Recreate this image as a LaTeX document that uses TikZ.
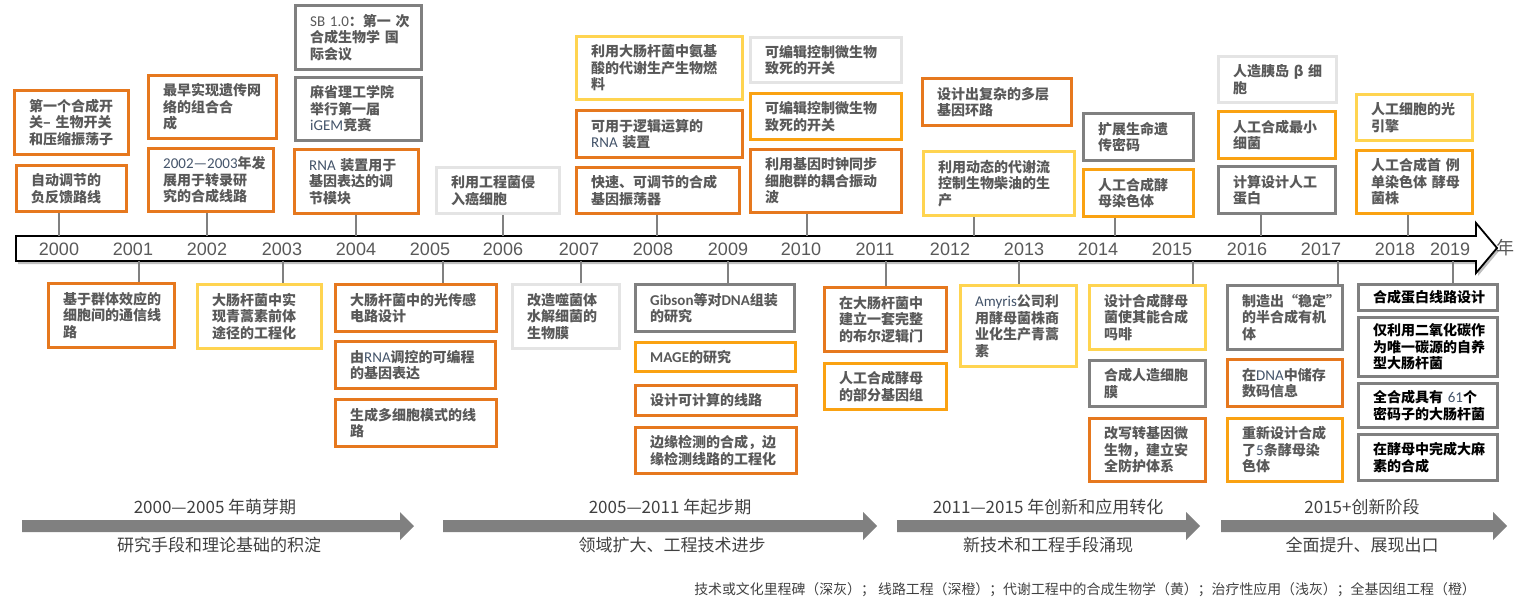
\documentclass[tikz,border=0pt]{standalone}
\usepackage{fontspec}
\setmainfont{Noto Sans CJK SC}
\newfontfamily\latf{Carlito}
\newfontfamily\yrf{Liberation Sans}
\definecolor{dorange}{RGB}{230,120,30}
\definecolor{morange}{RGB}{250,162,18}
\definecolor{myellow}{RGB}{255,212,80}
\definecolor{dgray}{RGB}{128,128,128}
\definecolor{lgray}{RGB}{228,228,228}
\definecolor{txt}{RGB}{89,89,89}
\definecolor{ptxt}{RGB}{64,64,64}
\definecolor{slate}{RGB}{68,84,106}
\hfuzz=50pt \hbadness=10000
\newcommand\lat[1]{\mbox{\latf\mdseries\fontsize{15}{16.5}\selectfont\color{slate}#1}}
\newcommand\latg[1]{\mbox{\latf\mdseries\fontsize{15}{16.5}\selectfont #1}}
\newcommand\latb[1]{\mbox{\latf\bfseries\fontsize{15}{16.5}\selectfont #1}}
\tikzset{
  tbox/.style={draw, line width=3.4pt, fill=white, inner xsep=14.5pt, inner ysep=0pt,
    align=left, font=\bfseries\fontsize{14}{16.5}\selectfont, text=txt},
  bDO/.style={draw=dorange}, bOR/.style={draw=morange}, bYE/.style={draw=myellow},
  bDG/.style={draw=dgray}, bLG/.style={draw=lgray},
  conn/.style={draw=dgray, line width=1.3pt},
  yr/.style={font=\yrf\fontsize{18}{20}\selectfont, text=txt, inner sep=0pt},
  ph/.style={font=\fontsize{17}{19}\selectfont, text=ptxt, inner sep=0pt},
  phase/.style={fill=dgray},
}
\newcommand\bx[7]{%
  \pgfmathsetmacro\bxw{#5-#3-3.4}%
  \pgfmathsetmacro\bxh{#6-#4-3.4}%
  \pgfmathsetmacro\bxt{\bxw-29}%
  \node[tbox,#2,minimum width=\bxw pt,minimum height=\bxh pt,text width=\bxt pt] (#1) at ({(#3+#5)/2},{(#4+#6)/2}) {#7};}
\begin{document}
\begin{tikzpicture}[x=1pt,y=-1pt]
\useasboundingbox (0,0) rectangle (1522,608);
% timeline bar
\fill[black!25] (18,239) -- (1478,239) -- (1478,226) -- (1499,251) -- (1478,276) -- (1478,264) -- (18,264) -- cycle;
\draw[line width=1.8pt, fill=white, line join=miter] (16,236) -- (1476,236) -- (1476,223) -- (1497,248) -- (1476,273) -- (1476,261) -- (16,261) -- cycle;
\foreach \x/\n in {59/2000,207/2002,356/2004,503/2006,657/2008,807/2010,974/2012,1115/2014,1261/2016,1408/2018}
  \coordinate (u\n) at (\x,236);
\foreach \x/\n in {139/2001,283/2003,443/2005,581/2007,728/2009,886/2011,1019/2013,1193/2015,1338/2017,1453/2019}
  \coordinate (d\n) at (\x,261);
\foreach \x/\n in {59/2000,133/2001,207/2002,282/2003,356/2004,430/2005,503/2006,579/2007,653/2008,728/2009,801/2010,875/2011,950/2012,1024/2013,1098/2014,1172/2015,1247/2016,1321/2017,1395/2018,1450/2019}
  \node[yr] (y\n) at (\x,249) {\n};
\node[yr, font=\fontsize{18}{20}\selectfont] (nian) at (1505,248) {年};
% top boxes
\bx{A1}{bDO}{13}{89}{130}{156}{第一个合成开\\关–~生物开关\\和压缩振荡子}
\bx{A2}{bDO}{15}{164}{128}{213}{自动调节的\\负反馈路线}
\bx{B1}{bDO}{147}{74}{278}{140}{最早实现遗传网\\络的组合合\\成}
\bx{B2}{bDO}{147}{147}{275}{213}{\lat{2002—2003}年发\\展用于转录研\\究的合成线路}
\bx{C1}{bDG}{294}{4}{423}{71}{\latg{SB 1.0}：第一~次\\合成生物学~国\\际会议}
\bx{C2}{bDG}{294}{76}{423}{142}{麻省理工学院\\举行第一届\\\lat{iGEM}竞赛}
\bx{C3}{bDO}{293}{148}{420}{215}{\lat{RNA}~装置用于\\基因表达的调\\节模块}
\bx{D1}{bLG}{435}{166}{561}{215}{利用工程菌侵\\入癌细胞}
\bx{E1}{bYE}{575}{35}{744}{101}{利用大肠杆菌中氨基\\酸的代谢生产生物燃\\料}
\bx{E2}{bDO}{575}{109}{744}{159}{可用于逻辑运算的\\\lat{RNA}~装置}
\bx{E3}{bDO}{575}{166}{741}{215}{快速、可调节的合成\\基因振荡器}
\bx{F1}{bLG}{749}{36}{903}{84}{可编辑控制微生物\\致死的开关}
\bx{F2}{bOR}{749}{92}{903}{141}{可编辑控制微生物\\致死的开关}
\bx{F3}{bDO}{749}{148}{903}{214}{利用基因时钟同步\\细胞群的耦合振动\\波}
\bx{G1}{bDO}{921}{77}{1073}{127}{设计出复杂的多层\\基因环路}
\bx{G2}{bYE}{922}{150}{1076}{217}{利用动态的代谢流\\控制生物柴油的生\\产}
\bx{H1}{bDG}{1082}{112}{1195}{162}{扩展生命遗\\传密码}
\bx{H2}{bOR}{1082}{168}{1195}{218}{人工合成酵\\母染色体}
\bx{I1}{bLG}{1217}{55}{1338}{104}{人造胰岛~β~细\\胞}
\bx{I2}{bOR}{1217}{110}{1337}{160}{人工合成最小\\细菌}
\bx{I3}{bDG}{1217}{165}{1337}{215}{计算设计人工\\蛋白}
\bx{J1}{bYE}{1355}{93}{1474}{142}{人工细胞的光\\引擎}
\bx{J2}{bOR}{1355}{149}{1474}{215}{人工合成首~例\\单染色体~酵母\\菌株}
% bottom boxes
\bx{K1}{bDO}{47}{282}{176}{349}{基于群体效应的\\细胞间的通信线\\路}
\bx{L1}{bYE}{196}{283}{323}{350}{大肠杆菌中实\\现青蒿素前体\\途径的工程化}
\bx{M1}{bDO}{334}{283}{498}{333}{大肠杆菌中的光传感\\电路设计}
\bx{M2}{bDO}{334}{340}{497}{390}{由\lat{RNA}调控的可编程\\的基因表达}
\bx{M3}{bDO}{334}{398}{498}{448}{生成多细胞模式的线\\路}
\bx{N1}{bLG}{511}{283}{621}{350}{改造噬菌体\\水解细菌的\\生物膜}
\bx{O1}{bDG}{634}{283}{796}{333}{\latb{Gibson}等对\latb{DNA}组装\\的研究}
\bx{O2}{bOR}{634}{341}{797}{373}{\latb{MAGE}的研究}
\bx{O3}{bDO}{634}{384}{798}{417}{设计可计算的线路}
\bx{O4}{bDO}{634}{426}{798}{475}{边缘检测的合成，边\\缘检测线路的工程化}
\bx{P1}{bDO}{823}{286}{948}{353}{在大肠杆菌中\\建立一套完整\\的布尔逻辑门}
\bx{P2}{bOR}{823}{362}{948}{411}{人工合成酵母\\的部分基因组}
\bx{Q1}{bYE}{959}{284}{1078}{368}{\lat{Amyris}公司利\\用酵母菌株商\\业化生产青蒿\\素}
\bx{R1}{bYE}{1088}{284}{1207}{351}{设计合成酵母\\菌使其能合成\\吗啡}
\bx{R2}{bDG}{1088}{359}{1207}{408}{合成人造细胞\\膜}
\bx{R3}{bDO}{1088}{417}{1207}{483}{改写转基因微\\生物，建立安\\全防护体系}
\bx{S1}{bDG}{1226}{284}{1344}{351}{制造出“稳定”\\的半合成有机\\体}
\bx{S2}{bDO}{1226}{358}{1344}{408}{在\lat{DNA}中储存\\数码信息}
\bx{S3}{bOR}{1226}{417}{1344}{483}{重新设计合成\\了\lat{5}条酵母染\\色体}
\bx{T1}{bDG,text=black}{1357}{283}{1499}{312}{合成蛋白线路设计}
\bx{T2}{bDG,text=black}{1357}{316}{1499}{378}{仅利用二氧化碳作\\为唯一碳源的自养\\型大肠杆菌}
\bx{T3}{bDG,text=black}{1357}{382}{1499}{429}{全合成具有~\lat{61}个\\密码子的大肠杆菌}
\bx{T4}{bDG,text=black}{1357}{433}{1499}{482}{在酵母中完成大麻\\素的合成}
% connectors
\draw[conn] (A2.south -| u2000) -- (u2000);
\draw[conn] (B2.south -| u2002) -- (u2002);
\draw[conn] (C3.south -| u2004) -- (u2004);
\draw[conn] (D1.south -| u2006) -- (u2006);
\draw[conn] (E3.south -| u2008) -- (u2008);
\draw[conn] (F3.south -| u2010) -- (u2010);
\draw[conn] (G2.south -| u2012) -- (u2012);
\draw[conn] (H2.south -| u2014) -- (u2014);
\draw[conn] (I3.south -| u2016) -- (u2016);
\draw[conn] (J2.south -| u2018) -- (u2018);
\draw[conn] (d2001) -- (K1.north -| d2001);
\draw[conn] (d2003) -- (L1.north -| d2003);
\draw[conn] (d2005) -- (M1.north -| d2005);
\draw[conn] (d2007) -- (N1.north -| d2007);
\draw[conn] (d2009) -- (O1.north -| d2009);
\draw[conn] (d2011) -- (P1.north -| d2011);
\draw[conn] (d2013) -- (Q1.north -| d2013);
\draw[conn] (d2015) -- (R1.north -| d2015);
\draw[conn] (d2017) -- (S1.north -| d2017);
\draw[conn] (d2019) -- (T1.north -| d2019);
% phase arrows
\fill[phase] (22,520) -- (400,520) -- (400,512) -- (414,526) -- (400,540) -- (400,532) -- (22,532) -- cycle;
\fill[phase] (443,520) -- (863,520) -- (863,512) -- (877,526) -- (863,540) -- (863,532) -- (443,532) -- cycle;
\fill[phase] (897,520) -- (1186,520) -- (1186,512) -- (1200,526) -- (1186,540) -- (1186,532) -- (897,532) -- cycle;
\fill[phase] (1221,520) -- (1493,520) -- (1493,512) -- (1507,526) -- (1493,540) -- (1493,532) -- (1221,532) -- cycle;
\node[ph] (p1a) at (215,507) {2000—2005 年萌芽期};
\node[ph] (p1b) at (219,545) {研究手段和理论基础的积淀};
\node[ph] (p2a) at (670,507) {2005—2011 年起步期};
\node[ph] (p2b) at (672,545) {领域扩大、工程技术进步};
\node[ph] (p3a) at (1048,507) {2011—2015 年创新和应用转化};
\node[ph] (p3b) at (1048,545) {新技术和工程手段涌现};
\node[ph] (p4a) at (1362,507) {2015+创新阶段};
\node[ph] (p4b) at (1362,545) {全面提升、展现出口};
\node[ph, font=\fontsize{13.9}{15}\selectfont, anchor=east] (legend) at (1476,590) {技术或文化里程碑（深灰）； 线路工程（深橙）；代谢工程中的合成生物学（黄）；治疗性应用（浅灰）；全基因组工程（橙）};
\end{tikzpicture}
\end{document}
